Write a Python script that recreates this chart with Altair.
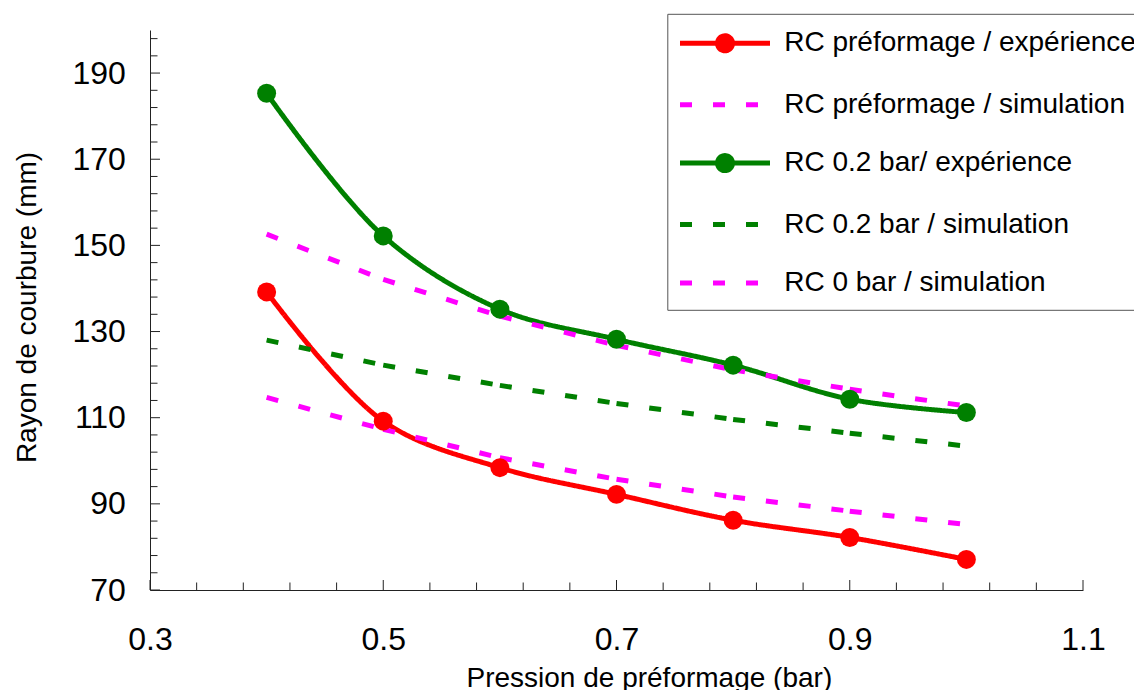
import altair as alt
import pandas as pd

# ---------------- data ----------------
x_vals = [0.4, 0.5, 0.6, 0.7, 0.8, 0.9, 1.0]

rc_pref_exp = [139.2, 109.2, 98.4, 92.2, 86.2, 82.2, 77.1]
rc_pref_sim = [114.7, 107.3, 100.7, 95.7, 91.6, 88.3, 85.2]
rc_02_exp = [185.3, 152.2, 135.2, 128.2, 122.2, 114.3, 111.2]
rc_02_sim = [128.0, 122.2, 117.5, 113.3, 109.6, 106.4, 103.4]
rc_0_sim = [152.6, 142.1, 133.6, 126.8, 121.1, 116.6, 112.7]

series_names = [
    "RC préformage / expérience",
    "RC préformage / simulation",
    "RC 0.2 bar/ expérience",
    "RC 0.2 bar / simulation",
    "RC 0 bar / simulation",
]
series_colors = ["#ff0000", "#ff00ff", "#008000", "#008000", "#ff00ff"]
series_is_exp = [True, False, True, False, False]

x_ticks = [round(0.3 + 0.04 * i, 2) for i in range(21)]
x_labels = [0.3, 0.5, 0.7, 0.9, 1.1]
y_ticks = list(range(70, 200, 4))
y_labels = [70, 90, 110, 130, 150, 170, 190]

x_title = "Pression de préformage (bar)"
y_title = "Rayon de courbure (mm)"

# ---------------- tables ----------------
exp_series = {series_names[0]: rc_pref_exp, series_names[2]: rc_02_exp}
sim_series = {series_names[1]: rc_pref_sim, series_names[3]: rc_02_sim,
              series_names[4]: rc_0_sim}

exp_df = pd.DataFrame([{"series": s, "x": x, "y": y}
                       for s, ys in exp_series.items() for x, y in zip(x_vals, ys)])
sim_rows = []
for s, ys in sim_series.items():
    for k in range(len(x_vals) - 1):
        for j in (k, k + 1):
            sim_rows.append({"series": s, "seg": f"{s}|{k}",
                             "x": x_vals[j], "y": ys[j]})
sim_df = pd.DataFrame(sim_rows)
legend_df = pd.DataFrame({"series": series_names})

x_major_df = pd.DataFrame({"x": x_labels})
x_minor_df = pd.DataFrame({"x": [v for v in x_ticks if v not in x_labels]})
y_major_df = pd.DataFrame({"y": y_labels})
y_minor_df = pd.DataFrame({"y": [v for v in y_ticks if v not in y_labels]})

# ---------------- legend symbols ----------------
r = 0.5
k = 0.5523 * r
CIRCLE_PATH = (
    "M-3,0L3,0"
    f"M{r},0C{r},{k:.3f} {k:.3f},{r} 0,{r}"
    f"C-{k:.3f},{r} -{r},{k:.3f} -{r},0"
    f"C-{r},-{k:.3f} -{k:.3f},-{r} 0,-{r}"
    f"C{k:.3f},-{r} {r},-{k:.3f} {r},0Z"
)
LINE_PATH = "M-3,0L3,0"
shape_range = [CIRCLE_PATH if e else LINE_PATH for e in series_is_exp]
dash_range = [[1, 0] if e else [12, 21] for e in series_is_exp]

legend = alt.Legend(
    title=None,
    orient="none",
    legendX=517.3,
    legendY=-16.2,
    padding=12,
    rowPadding=26.4,
    symbolOffset=28.2,
    labelOffset=41.7,
    symbolSize=900,
    symbolStrokeWidth=5,
    symbolOpacity=1,
    labelFont="Liberation Sans",
    labelFontSize=28,
    labelColor="black",
    labelLimit=1000,
    strokeColor="#555555",
    fillColor="white",
)

x_axis = alt.Axis(
    values=x_labels,
    format=".1f",
    title=x_title,
    grid=False,
    ticks=False,
    labelPadding=34.6,
    labelFlush=False,
    labelOverlap=False,
    titleX=316,
    titleY=96,
    titleAlign="left",
    titleBaseline="alphabetic",
)
y_axis = alt.Axis(
    values=y_labels,
    format="d",
    title=y_title,
    grid=False,
    ticks=False,
    labelPadding=24.6,
    labelOverlap=False,
    titleX=-115,
    titleY=277,
    titleAlign="center",
    titleBaseline="alphabetic",
    titleAngle=270,
)

X = alt.X("x:Q", scale=alt.Scale(domain=[0.3, 1.1], nice=False, zero=False), axis=x_axis)
Y = alt.Y("y:Q", scale=alt.Scale(domain=[70, 200], nice=False, zero=False), axis=y_axis)
FILL = alt.Fill("series:N", scale=alt.Scale(domain=series_names, range=series_colors),
                legend=legend)
STROKE = alt.Stroke("series:N", scale=alt.Scale(domain=series_names, range=series_colors),
                    legend=legend)
SHAPE = alt.Shape("series:N", scale=alt.Scale(domain=series_names, range=shape_range),
                  legend=legend)
DASH = alt.StrokeDash("series:N", scale=alt.Scale(domain=series_names, range=dash_range),
                      legend=legend)

# legend-only layer (no drawn points)
legend_layer = alt.Chart(legend_df).transform_filter("false").mark_point(
    filled=True, size=900, strokeWidth=5, opacity=1
).encode(x=X, y=Y, fill=FILL, stroke=STROKE, shape=SHAPE, strokeDash=DASH)

tick_style = dict(color="#222222", strokeWidth=1)
y_major = alt.Chart(y_major_df).mark_rule(**tick_style).encode(
    y=Y, x=alt.value(0), x2=alt.value(10))
y_minor = alt.Chart(y_minor_df).mark_rule(**tick_style).encode(
    y=Y, x=alt.value(0), x2=alt.value(7.5))
x_major = alt.Chart(x_major_df).mark_rule(**tick_style).encode(
    x=X, y=alt.value(560), y2=alt.value(550))
x_minor = alt.Chart(x_minor_df).mark_rule(**tick_style).encode(
    x=X, y=alt.value(560), y2=alt.value(552.5))

exp_lines = alt.Chart(exp_df).mark_line(strokeWidth=5, interpolate="catmull-rom").encode(
    x=X, y=Y, stroke=STROKE, strokeDash=DASH)
sim_lines = alt.Chart(sim_df).mark_line(strokeWidth=5).encode(
    x=X, y=Y, stroke=STROKE, strokeDash=DASH, detail="seg:N")
points = alt.Chart(exp_df).mark_circle(size=360, opacity=1).encode(x=X, y=Y, fill=FILL)

chart = (
    alt.layer(legend_layer, y_major, y_minor, x_major, x_minor,
              exp_lines, sim_lines, points)
    .properties(
        width=933,
        height=560,
        padding={"left": 142, "top": 22, "right": 51, "bottom": 100},
        autosize=alt.AutoSizeParams(type="none"),
        background="white",
    )
    .configure_view(stroke=None)
    .configure_axis(
        domainColor="#222222",
        domainWidth=1,
        labelFont="Liberation Sans",
        labelFontSize=32,
        labelColor="black",
        titleFont="Liberation Sans",
        titleFontSize=28,
        titleFontWeight="normal",
        titleColor="black",
    )
)

chart.save("out.html", embed_options={"renderer": "svg", "actions": False})
